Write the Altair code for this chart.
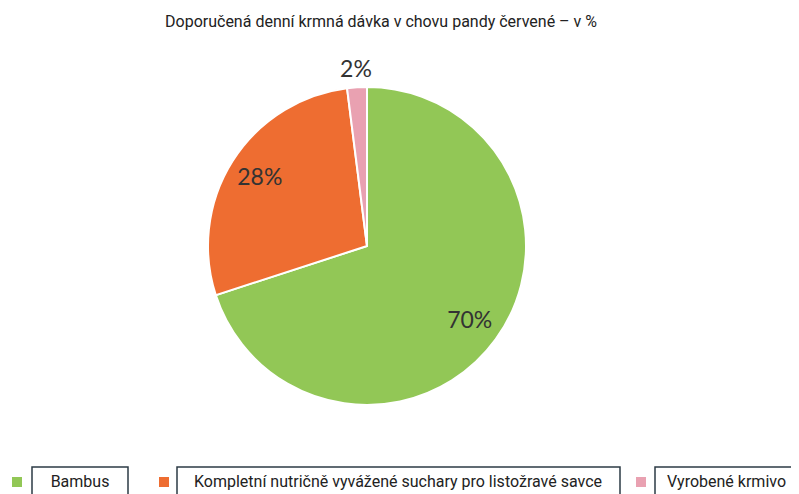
import altair as alt
import pandas as pd

# ---- data ----
categories = ["Bambus", "Kompletní nutričně vyvážené suchary pro listožravé savce", "Vyrobené krmivo"]
values = [70, 28, 2]
labels = ["70%", "28%", "2%"]
order = [1, 2, 3]
colors = ["#92c756", "#ee6d31", "#e9a1b1"]
title_text = "Doporučená denní krmná dávka v chovu pandy červené – v %"

df = pd.DataFrame({"category": categories, "value": values, "label": labels, "ord": order})

W, H = 783, 486
CX, CY, R = 359, 238, 159

base = alt.Chart(df)
color = alt.Color("category:N", scale=alt.Scale(domain=categories, range=colors), legend=None)

arcs = base.mark_arc(radius=R, stroke="white", strokeWidth=2).encode(
    theta=alt.Theta("value:Q", stack=True),
    color=color,
    order=alt.Order("ord:Q"),
    x=alt.value(CX), y=alt.value(CY),
)

lab_base = base.transform_window(
    cum="sum(value)", sort=[alt.SortField("ord")], frame=[None, 0]
).transform_calculate(mid="datum.cum - datum.value / 2")

lab_in = lab_base.transform_filter("datum.value >= 5").mark_text(
    radius=127, font="Lato", fontSize=23, color="#333333", align="center", baseline="middle"
).encode(theta=alt.Theta("mid:Q", stack=False), text="label:N", x=alt.value(CX), y=alt.value(CY))

lab_out = lab_base.transform_filter("datum.value < 5").mark_text(
    radius=176, font="Lato", fontSize=23, color="#333333", align="center", baseline="middle"
).encode(theta=alt.Theta("mid:Q", stack=False), text="label:N", x=alt.value(CX), y=alt.value(CY))

title = base.transform_filter("datum.ord == 1").mark_text(
    font="Roboto", fontSize=16, color="#222222", align="center", baseline="alphabetic"
).encode(text=alt.value(title_text), x=alt.value(373), y=alt.value(19))

# legend layout (square x, box x0, box x1, text x, align)
legend_layout = [
    (9, 24, 120, 72, "center"),
    (156, 169, 612, 390, "center"),
    (633, 647, 790, 659, "left"),
]
legend_layers = []
for cat, (sx, bx0, bx1, tx, al) in zip(categories, legend_layout):
    f = base.transform_filter(alt.datum.category == cat)
    legend_layers.append(f.mark_square(size=100, opacity=1).encode(
        x=alt.value(sx), y=alt.value(474), color=color))
    legend_layers.append(f.mark_rect(fill="white", stroke="#2d3b45", strokeWidth=1.5).encode(
        x=alt.value(bx0), x2=alt.value(bx1), y=alt.value(459), y2=alt.value(510)))
    legend_layers.append(f.mark_text(font="Roboto", fontSize=16, color="#222222", align=al,
                                     baseline="alphabetic").encode(
        x=alt.value(tx), y=alt.value(479), text="category:N"))

chart = alt.layer(arcs, lab_in, lab_out, title, *legend_layers).properties(
    width=W, height=H, autosize=alt.AutoSizeParams(type="none"), padding=0
).configure_view(stroke=None)

chart.save("out.html", embed_options={"renderer": "svg", "actions": False})
